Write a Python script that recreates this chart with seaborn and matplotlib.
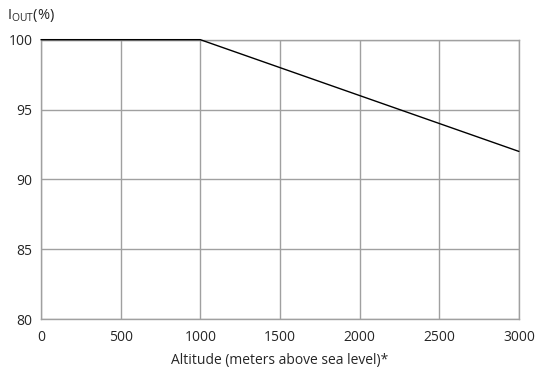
import numpy as np
import pandas as pd
import matplotlib
matplotlib.use('Agg')
import matplotlib.pyplot as plt
import seaborn as sns

# Derating curve: output current vs altitude
altitude = [0, 1000, 3000]
iout_pct = [100, 100, 92]
x_ticks = [0, 500, 1000, 1500, 2000, 2500, 3000]
y_ticks = [80, 85, 90, 95, 100]

df = pd.DataFrame({'altitude': altitude, 'iout': iout_pct})

sns.set_style('white')
plt.rcParams['font.family'] = ['Open Sans', 'DejaVu Sans']
plt.rcParams['mathtext.fontset'] = 'custom'
plt.rcParams['mathtext.rm'] = 'Open Sans'

fig = plt.figure(figsize=(5.36, 3.69), dpi=100)
ax = fig.add_axes([0.0765, 0.1355, 0.8915, 0.757])

sns.lineplot(data=df, x='altitude', y='iout', ax=ax, color='black', linewidth=1.0, zorder=3)
for ln in ax.lines:
    ln.set_clip_on(False)

ax.set_xlim(0, 3000)
ax.set_ylim(80, 100)
ax.set_xticks(x_ticks)
ax.set_yticks(y_ticks)
ax.grid(True, color='#a0a0a0', linewidth=1.0)
for s in ax.spines.values():
    s.set_color('#a0a0a0')
    s.set_linewidth(1.0)
ax.tick_params(axis='y', length=4, color='#a0a0a0', labelsize=10, pad=2)
ax.tick_params(axis='x', length=0, labelsize=10, pad=8)

ax.set_xlabel('Altitude (meters above sea level)*', fontsize=10, labelpad=6)
ax.set_ylabel('')
fig.text(0.013, 0.935, r'$\mathregular{I_{OUT}}$(%)', fontsize=10.5, ha='left', va='bottom')

fig.savefig('out.png', dpi=100)
